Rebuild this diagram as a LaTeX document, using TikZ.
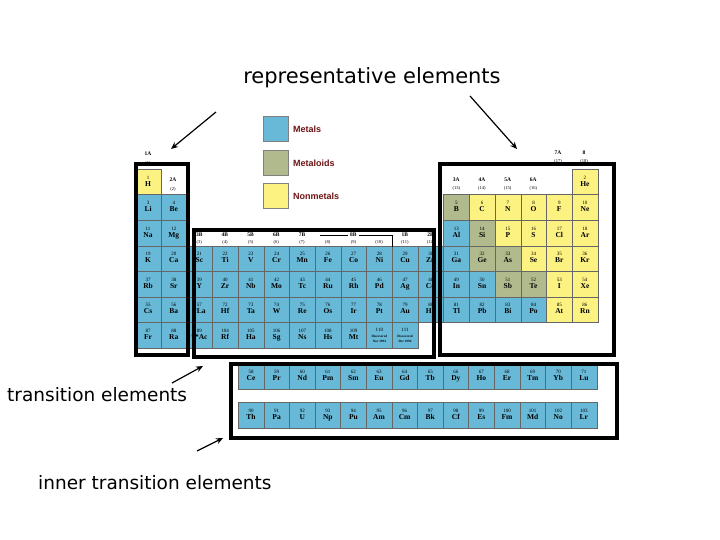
\documentclass[tikz,border=0pt]{standalone}
\usepackage{fontspec}
\usetikzlibrary{arrows.meta}
\setmainfont{Liberation Serif}
\newfontfamily\labfont{DejaVu Sans}
\newfontfamily\legfont{Liberation Sans}
\definecolor{metal}{RGB}{104,185,215}
\definecolor{metalloid}{RGB}{176,186,140}
\definecolor{nonmetal}{RGB}{252,242,130}
\definecolor{legred}{RGB}{110,20,20}
\tikzset{
 el/.style={draw=black!60,line width=0.4pt,anchor=north west,minimum width=25.7pt,minimum height=25.5pt,inner sep=0pt,align=center,font=\fontsize{5}{7}\selectfont},
 frame/.style={draw,line width=4pt},
 hdr/.style={font=\bfseries\fontsize{5.5}{6}\selectfont,inner sep=0pt},
 hnum/.style={font=\fontsize{4.5}{5}\selectfont,inner sep=0pt},
 big/.style={font=\labfont\fontsize{18.5}{20}\selectfont,inner sep=0pt},
 leg/.style={draw=black!50,minimum width=25pt,minimum height=25pt,anchor=north west,inner sep=0pt},
 legt/.style={font=\legfont\bfseries\fontsize{9}{10}\selectfont,text=legred,anchor=west,inner sep=0pt},
 arr/.style={line width=1.2pt,-{Stealth[length=7pt,width=6pt]}}
}
\newcommand{\sym}[1]{\textbf{\fontsize{7.5}{8}\selectfont #1\vphantom{Ag}}}
\begin{document}
\begin{tikzpicture}[x=1pt,y=-1pt]
\useasboundingbox (0,0) rectangle (720,540);
\fill[white] (0,0) rectangle (720,540);
\foreach \cc/\rr/\nn/\ss/\kk in {1/1/1/H/nonmetal,18/1/2/He/nonmetal,
 1/2/3/Li/metal,2/2/4/Be/metal,13/2/5/B/metalloid,14/2/6/C/nonmetal,15/2/7/N/nonmetal,16/2/8/O/nonmetal,17/2/9/F/nonmetal,18/2/10/Ne/nonmetal,
 1/3/11/Na/metal,2/3/12/Mg/metal,13/3/13/Al/metal,14/3/14/Si/metalloid,15/3/15/P/nonmetal,16/3/16/S/nonmetal,17/3/17/Cl/nonmetal,18/3/18/Ar/nonmetal,
 1/4/19/K/metal,2/4/20/Ca/metal,3/4/21/Sc/metal,4/4/22/Ti/metal,5/4/23/V/metal,6/4/24/Cr/metal,7/4/25/Mn/metal,8/4/26/Fe/metal,9/4/27/Co/metal,10/4/28/Ni/metal,11/4/29/Cu/metal,12/4/30/Zn/metal,13/4/31/Ga/metal,14/4/32/Ge/metalloid,15/4/33/As/metalloid,16/4/34/Se/nonmetal,17/4/35/Br/nonmetal,18/4/36/Kr/nonmetal,
 1/5/37/Rb/metal,2/5/38/Sr/metal,3/5/39/Y/metal,4/5/40/Zr/metal,5/5/41/Nb/metal,6/5/42/Mo/metal,7/5/43/Tc/metal,8/5/44/Ru/metal,9/5/45/Rh/metal,10/5/46/Pd/metal,11/5/47/Ag/metal,12/5/48/Cd/metal,13/5/49/In/metal,14/5/50/Sn/metal,15/5/51/Sb/metalloid,16/5/52/Te/metalloid,17/5/53/I/nonmetal,18/5/54/Xe/nonmetal,
 1/6/55/Cs/metal,2/6/56/Ba/metal,3/6/57/*La/metal,4/6/72/Hf/metal,5/6/73/Ta/metal,6/6/74/W/metal,7/6/75/Re/metal,8/6/76/Os/metal,9/6/77/Ir/metal,10/6/78/Pt/metal,11/6/79/Au/metal,12/6/80/Hg/metal,13/6/81/Tl/metal,14/6/82/Pb/metal,15/6/83/Bi/metal,16/6/84/Po/metal,17/6/85/At/nonmetal,18/6/86/Rn/nonmetal,
 1/7/87/Fr/metal,2/7/88/Ra/metal,3/7/89/**Ac/metal,4/7/104/Rf/metal,5/7/105/Ha/metal,6/7/106/Sg/metal,7/7/107/Ns/metal,8/7/108/Hs/metal,9/7/109/Mt/metal}
 {\node[el,fill=\kk] (e\nn) at ({135+(\cc-1)*25.7},{169+(\rr-1)*25.5}) {\nn\\ \sym{\ss}};}
\node[el,fill=metal,font=\fontsize{5}{5}\selectfont] (e110) at ({135+9*25.7},{169+6*25.5}) {110\\[1pt] \textbf{\fontsize{3.3}{4}\selectfont Discovered}\\ \textbf{\fontsize{3.3}{4}\selectfont Nov 1994}};
\node[el,fill=metal,font=\fontsize{5}{5}\selectfont] (e111) at ({135+10*25.7},{169+6*25.5}) {111\\[1pt] \textbf{\fontsize{3.3}{4}\selectfont Discovered}\\ \textbf{\fontsize{3.3}{4}\selectfont Dec 1994}};
\foreach \ii/\nn/\ss in {0/58/Ce,1/59/Pr,2/60/Nd,3/61/Pm,4/62/Sm,5/63/Eu,6/64/Gd,7/65/Tb,8/66/Dy,9/67/Ho,10/68/Er,11/69/Tm,12/70/Yb,13/71/Lu}
 {\node[el,fill=metal] (e\nn) at ({238+\ii*25.6},363) {\nn\\ \sym{\ss}};}
\foreach \ii/\nn/\ss in {0/90/Th,1/91/Pa,2/92/U,3/93/Np,4/94/Pu,5/95/Am,6/96/Cm,7/97/Bk,8/98/Cf,9/99/Es,10/100/Fm,11/101/Md,12/102/No,13/103/Lr}
 {\node[el,fill=metal] (e\nn) at ({238+\ii*25.6},402) {\nn\\ \sym{\ss}};}
\node[hdr] (g1) at (148,154) {1A}; \node[hnum] (n1) at (148,163) {(1)};
\node[hdr] (g2) at (173,180) {2A}; \node[hnum] (n2) at (173,189) {(2)};
\foreach \cc/\gg/\nn in {3/3B/3,4/4B/4,5/5B/5,6/6B/6,7/7B/7,11/1B/11,12/2B/12}
 {\node[hdr] (g\nn) at ({135+(\cc-0.5)*25.7},235) {\gg}; \node[hnum] (n\nn) at ({135+(\cc-0.5)*25.7},242) {(\nn)};}
\node[hdr,fill=white,inner xsep=2pt] (g8) at ({135+8.5*25.7},235) {8B};
\foreach \cc in {8,9,10}{\node[hnum] (n\cc) at ({135+(\cc-0.5)*25.7},242) {(\cc)};}
\coordinate (l8a) at ({135+7.2*25.7},235);
\coordinate (l8b) at ({135+10*25.7},235);
\coordinate (l8c) at ({135+10*25.7},247);
\draw[line width=0.4pt] (l8a) -- (g8.west) (g8.east) -- (l8b) -- (l8c);
\foreach \cc/\gg/\nn in {13/3A/13,14/4A/14,15/5A/15,16/6A/16}
 {\node[hdr] (g\nn) at ({135+(\cc-0.5)*25.7},180) {\gg}; \node[hnum] (n\nn) at ({135+(\cc-0.5)*25.7},188) {(\nn)};}
\node[hdr] (g17) at (558,153) {7A}; \node[hnum] (n17) at (558,161) {(17)};
\node[hdr] (g18) at (584,153) {8}; \node[hnum] (n18) at (584,161) {(18)};
\node[leg,fill=metal] (lm) at (263,116) {};
\node[leg,fill=metalloid] (ld) at (263,150) {};
\node[leg,fill=nonmetal] (ln) at (263,183) {};
\node[legt] (tm) at (293,129) {Metals};
\node[legt] (td) at (293,163) {Metaloids};
\node[legt] (tn) at (293,196) {Nonmetals};
\node[frame,minimum width=52pt,minimum height=191pt,anchor=north west] (f1) at (134,162) {};
\node[frame,minimum width=240pt,minimum height=127pt,anchor=north west] (f2) at (192,228) {};
\node[frame,minimum width=174pt,minimum height=191pt,anchor=north west] (f3) at (438,162) {};
\node[frame,minimum width=386pt,minimum height=74pt,anchor=north west] (f4) at (229,362) {};
\node[big,font=\labfont\fontsize{21}{24}\selectfont] (rep) at (372,78) {representative elements};
\node[big,anchor=west] (tra) at (7,395) {transition elements};
\node[big,anchor=west] (inn) at (38,483) {inner transition elements};
\coordinate (a1s) at (216,112); \coordinate (a1e) at (171,149);
\coordinate (a2s) at (470,96); \coordinate (a2e) at (517,149);
\coordinate (a3s) at (172,383); \coordinate (a3e) at (203,366);
\coordinate (a4s) at (197,451); \coordinate (a4e) at (223,438);
\draw[arr] (a1s) -- (a1e);
\draw[arr] (a2s) -- (a2e);
\draw[arr] (a3s) -- (a3e);
\draw[arr] (a4s) -- (a4e);
\end{tikzpicture}
\end{document}
